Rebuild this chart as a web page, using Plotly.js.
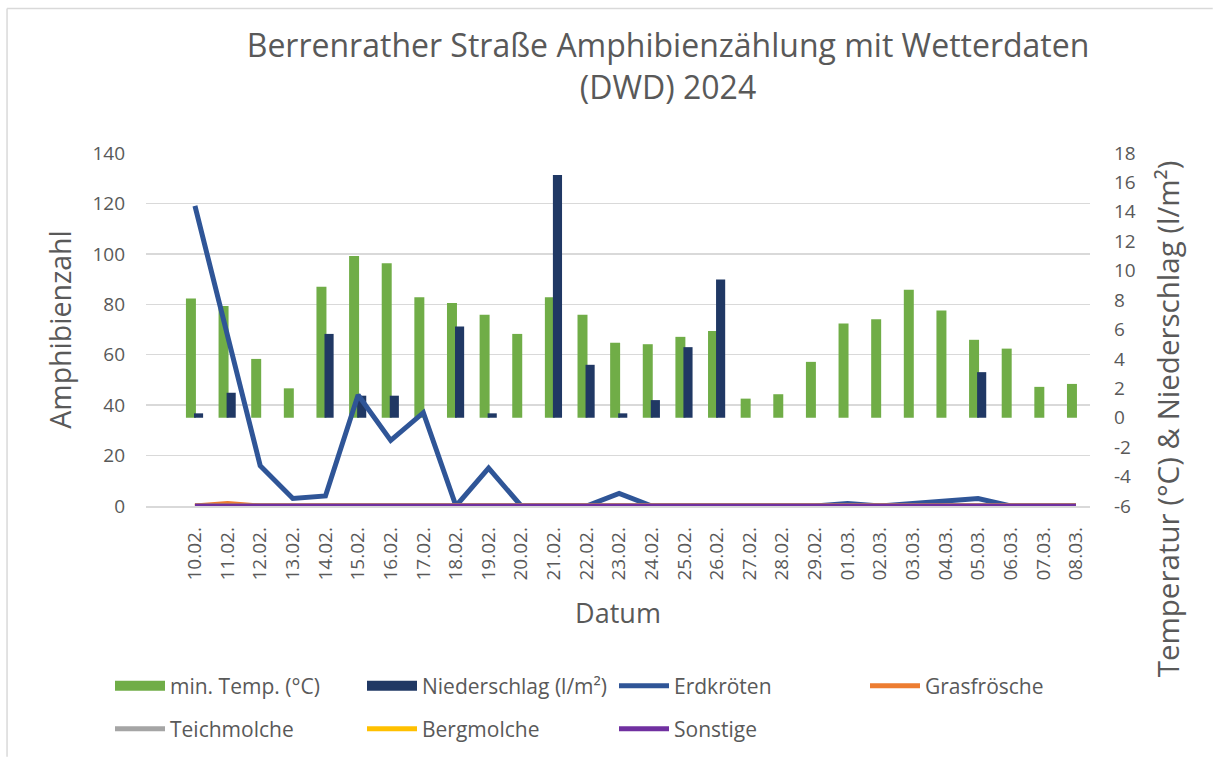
<!DOCTYPE html>
<html>
<head>
<meta charset="utf-8">
<script src="https://cdn.plot.ly/plotly-3.0.1.min.js"></script>
<style>html,body{margin:0;padding:0;background:#fff;}#chart{width:1213px;height:758px;}</style>
</head>
<body>
<div id="chart"></div>
<script>
const dates = ['10.02.','11.02.','12.02.','13.02.','14.02.','15.02.','16.02.','17.02.','18.02.','19.02.','20.02.','21.02.','22.02.','23.02.','24.02.','25.02.','26.02.','27.02.','28.02.','29.02.','01.03.','02.03.','03.03.','04.03.','05.03.','06.03.','07.03.','08.03.'];
const minTemp = [8.1,7.6,4.0,2.0,8.9,11.0,10.5,8.2,7.8,7.0,5.7,8.2,7.0,5.1,5.0,5.5,5.9,1.3,1.6,3.8,6.4,6.7,8.7,7.3,5.3,4.7,2.1,2.3];
const niederschlag = [0.3,1.7,0,0,5.7,1.5,1.5,0,6.2,0.3,0,16.5,3.6,0.3,1.2,4.8,9.4,0,0,0,0,0,0,0,3.1,0,0,0];
const erdkroeten = [119,68,16,3,4,44,26,37,0,15,0,0,0,5,0,0,0,0,0,0,1,0,1,2,3,0,0,0];
const grasfroesche = [0,1,0,0,0,0,0,0,0,0,0,0,0,0,0,0,0,0,0,0,0,0,0,0,0,0,0,0];
const teichmolche = [0,0,0,0,0,0,0,0,0,0,0,0,0,0,0,0,0,0,0,0,0,0,0,0,0,0,0,0];
const bergmolche = [0,0,0,0,0,0,0,0,0,0,0,0,0,0,0,0,0,0,0,0,0,0,0,0,0,0,0,0];
const sonstige = [0,0,0,0,0,0,0,0,0,0,0,0,0,0,0,0,0,0,0,0,0,0,0,0,0,0,0,0];
const rightTickVals = [-6,-4,-2,0,2,4,6,8,10,12,14,16,18];
const rightTickText = ['-6','-4','-2','0','2','4','6','8','10','12','14','16','18'];

const txt = '#595959';
const fam = '"Open Sans", "Noto Sans", sans-serif';
const green = '#70AD47', navy = '#203864';

function line(name, y, color, legend) {
  return {type:'scatter', mode:'lines', name:name, x:dates, y:y, yaxis:'y2',
    line:{color:color, width:5}, legend:legend, hoverinfo:'skip'};
}
function legendKey(name, color) {
  return {type:'scatter', mode:'lines', name:name, x:[dates[0]], y:[null], yaxis:'y',
    line:{color:color, width:15}, legend:'legend', hoverinfo:'skip'};
}

const traces = [
  legendKey('min. Temp. (°C)', green),
  legendKey('Niederschlag (l/m²)', navy),
  {type:'bar', name:'min. Temp. (°C)', x:dates, y:minTemp, yaxis:'y', showlegend:false,
   marker:{color:green}, offset:-0.276, width:0.306, hoverinfo:'skip'},
  {type:'bar', name:'Niederschlag (l/m²)', x:dates, y:niederschlag, yaxis:'y', showlegend:false,
   marker:{color:navy}, offset:-0.03, width:0.28, hoverinfo:'skip'},
  line('Erdkröten', erdkroeten, '#2F5597', 'legend'),
  line('Grasfrösche', grasfroesche, '#ED7D31', 'legend3'),
  line('Teichmolche', teichmolche, '#A5A5A5', 'legend2'),
  line('Bergmolche', bergmolche, '#FFC000', 'legend2'),
  line('Sonstige', sonstige, '#7030A0', 'legend2')
];

const legendCommon = {
  orientation:'h', xref:'container', yref:'container', xanchor:'left', yanchor:'middle',
  entrywidth:187, entrywidthmode:'pixels', itemwidth:50,
  font:{family:fam, size:21, color:txt}, bgcolor:'rgba(0,0,0,0)', traceorder:'normal'
};

const layout = {
  width:1213, height:758,
  paper_bgcolor:'#fff', plot_bgcolor:'#fff',
  margin:{l:146, r:123, t:152.7, b:252.3},
  font:{family:fam, color:txt},
  barmode:'overlay',
  showlegend:true,
  title:{text:'Berrenrather Straße Amphibienzählung mit Wetterdaten<br>(DWD) 2024',
    font:{family:fam, size:32, color:txt}, xref:'paper', x:0.553, xanchor:'center',
    yref:'container', y:1-57/758, yanchor:'top'},
  xaxis:{type:'category', categoryorder:'array', categoryarray:dates,
    range:[-1.5, 27.43], tickangle:-90, ticks:'', showgrid:false,
    showline:true, linecolor:'#d9d9d9', linewidth:1.5,
    tickfont:{family:fam, size:19, color:txt}, ticklabelstandoff:12,
    title:{text:'Datum', font:{family:fam, size:27, color:txt}, standoff:24}},
  yaxis:{range:[-6,18], tickmode:'array', tickvals:rightTickVals, ticktext:rightTickText,
    side:'right', showgrid:false, zeroline:false,
    tickfont:{family:fam, size:19, color:txt}, ticklabelstandoff:23, ticks:''},
  yaxis2:{range:[0,140], dtick:20, side:'left', overlaying:'y', showgrid:true,
    gridcolor:'#d9d9d9', gridwidth:1.5, zeroline:false, ticks:'',
    tickfont:{family:fam, size:19, color:txt}, ticklabelstandoff:20,
    title:{text:'Amphibienzahl', font:{family:fam, size:28.5, color:txt}, standoff:12}},
  legend:Object.assign({}, legendCommon, {x:110/1213, y:1-686/758}),
  legend3:Object.assign({}, legendCommon, {x:865/1213, y:1-686/758}),
  legend2:Object.assign({}, legendCommon, {x:110/1213, y:1-729/758}),
  annotations:[
    {text:'Temperatur (°C) & Niederschlag (l/m²)', textangle:-90, showarrow:false,
     xref:'paper', yref:'paper', x:(1167-146)/944, y:(505.7-419)/353,
     xanchor:'center', yanchor:'middle', font:{family:fam, size:29.5, color:txt}}
  ],
  shapes:[
    {type:'line', xref:'paper', yref:'paper', x0:-0.1472, x1:-0.1472, y0:1.409, y1:-0.71,
     line:{color:'#d9d9d9', width:1.5}},
    {type:'line', xref:'paper', yref:'paper', x0:-0.1472, x1:1.13, y0:1.409, y1:1.409,
     line:{color:'#d9d9d9', width:1.5}}
  ]
};

Plotly.newPlot('chart', traces, layout, {displayModeBar:false, staticPlot:true});
</script>
</body>
</html>
